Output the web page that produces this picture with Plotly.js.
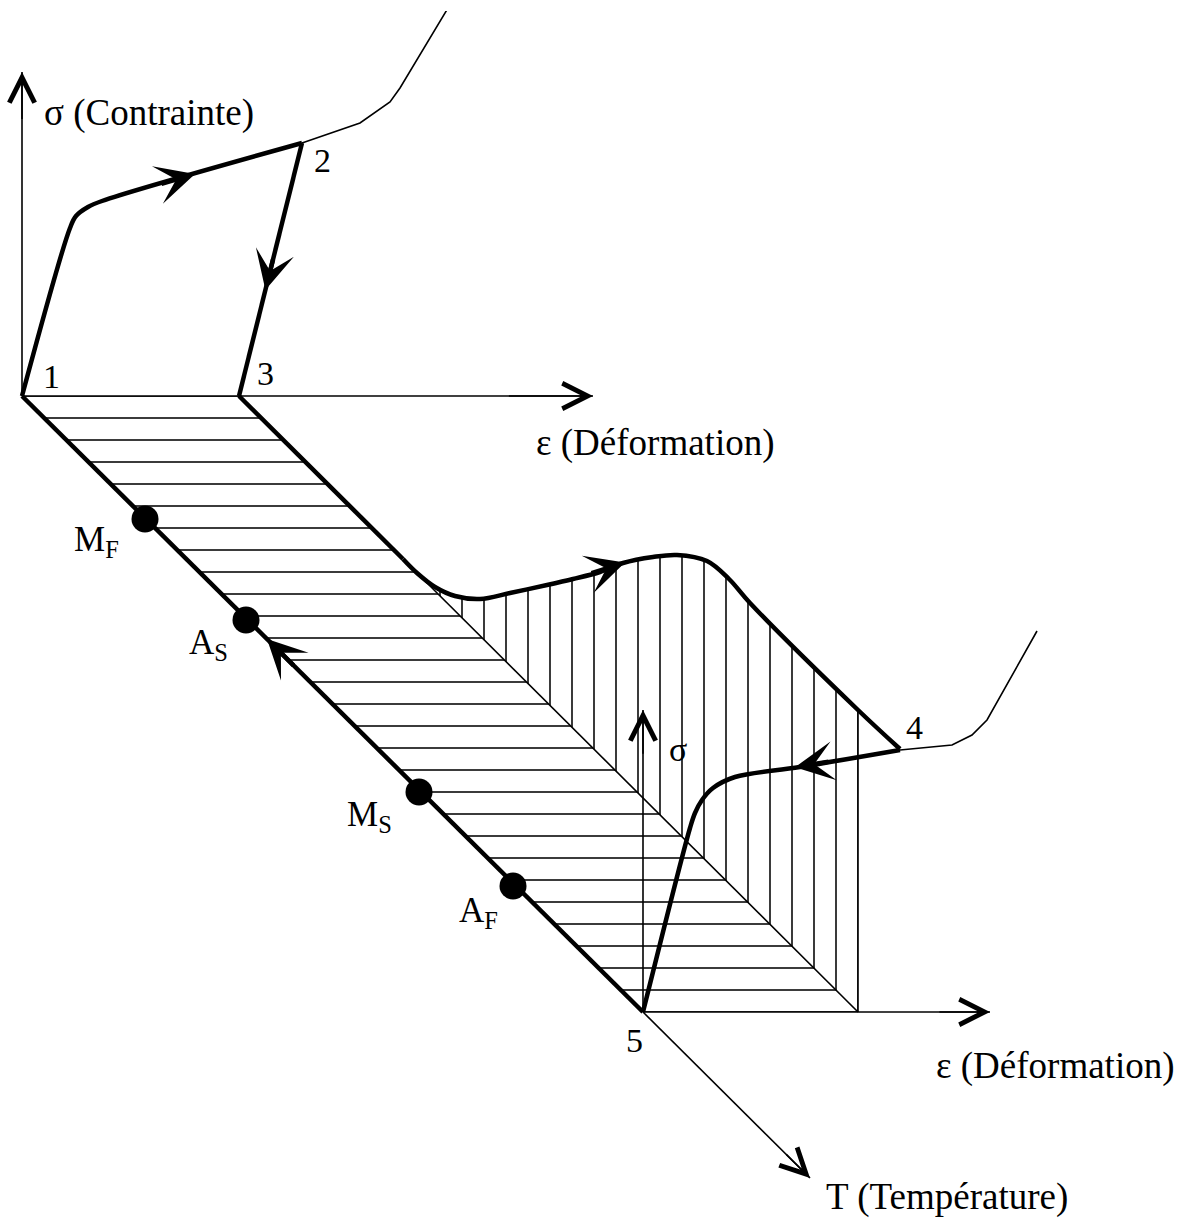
<!DOCTYPE html>
<html>
<head>
<meta charset="utf-8">
<script src="https://cdn.plot.ly/plotly-3.0.1.min.js"></script>
<style>
  html, body { margin: 0; padding: 0; background: #fff; }
  #plot { width: 1194px; height: 1223px; }
</style>
</head>
<body>
<div id="plot"></div>
<script>
// Diagram coordinates (pixel-like units, y downwards)

// hatched floor (strain / temperature plane)
const floorX = [22, 239, 858, 643];
const floorY = [396, 396, 1012, 1012];
const floorDiagX = [417, 858];
const floorDiagY = [573, 1012];

// upper stress curve, from the back edge to point 4
const upperX = [417, 435, 455, 480, 510, 547, 573, 600, 623, 653, 677, 707, 729, 750, 858];
const upperY = [573, 587, 596, 599, 593, 585, 579, 572, 563, 557, 555, 561, 579, 603, 710];
const backEdgeX = [239, 403];
const backEdgeY = [396, 559];
const point4 = [900, 749];

// thick loading paths
const frontX = [22, 643];
const frontY = [396, 1012];
const loadX = [22, 70, 76, 88, 102, 302];
const loadY = [396, 228, 216, 207, 201, 143];
const unloadX = [302, 239];
const unloadY = [143, 396];
const coolX = [900, 800, 735, 713, 702, 695, 690, 643];
const coolY = [750, 767, 777, 788, 800, 813, 828, 1012];

// thin continuations of the stress-strain curves
const tail2X = [302, 360, 390, 400, 448];
const tail2Y = [143, 123, 102, 88, 8];
const tail4X = [900, 952, 972, 987, 1037];
const tail4Y = [750, 745, 735, 720, 631];

// axes: origin -> tip
const axes = [
  {x: [22, 22],   y: [396, 72]},    // sigma
  {x: [22, 593],  y: [396, 396]},   // epsilon
  {x: [643, 643], y: [1012, 710]},  // sigma (hot)
  {x: [643, 990], y: [1012, 1012]}, // epsilon (hot)
  {x: [643, 810], y: [1012, 1178]}  // temperature
];

// direction arrows on the thick paths: tip and a point behind it
const flowTipX = [195, 265.4, 625, 795, 267];
const flowTipY = [174.0, 290, 562.5, 767.2, 639];
const flowBackX = [160, 273.4, 590, 830, 295];
const flowBackY = [184.2, 258, 573.6, 761.5, 666.8];

// transformation temperatures
const transX = [145, 246, 419, 513];
const transY = [519, 620, 792, 886];
const transLabels = ['M<sub>F</sub>', 'A<sub>S</sub>', 'M<sub>S</sub>', 'A<sub>F</sub>'];
const transLabelX = [72, 187, 345, 457];
const transLabelY = [541, 644, 816, 912];

// axis titles
const titleText = ['σ (Contrainte)', 'ε (Déformation)', 'ε (Déformation)', 'T (Température)'];
const titleX = [42, 655, 1055, 947];
const titleY = [113, 443, 1066, 1197];
const titleAnchor = ['left', 'center', 'center', 'center'];

// point labels
const pointText = ['1', '2', '3', '4', '5', 'σ'];
const pointX = [51, 322, 265, 914, 634, 678];
const pointY = [376, 160, 373, 727, 1040, 749];

const black = '#000';
const thick = 4.5;
const thin = 1.6;
const serif = 'Liberation Serif, Times New Roman, serif';

const traces = [];

// horizontal hatching on the floor
traces.push({
  x: floorX, y: floorY, mode: 'lines', fill: 'toself',
  line: {width: 0}, fillcolor: 'rgba(0,0,0,0)',
  fillpattern: {shape: '-', size: 22, solidity: 0.07, fgcolor: black, bgcolor: 'rgba(0,0,0,0)'}
});
// floor diagonal (thin) and vertical hatching up to the stress curve
traces.push({x: floorDiagX, y: floorDiagY, mode: 'lines', line: {color: black, width: thin}});
traces.push({
  x: upperX, y: upperY, mode: 'lines', fill: 'tonexty',
  line: {width: 0, shape: 'spline', smoothing: 1}, fillcolor: 'rgba(0,0,0,0)',
  fillpattern: {shape: '|', size: 22, solidity: 0.07, fgcolor: black, bgcolor: 'rgba(0,0,0,0)'}
});
traces.push({x: [upperX[upperX.length - 1], upperX[upperX.length - 1]], y: [upperY[upperY.length - 1], 1012],
  mode: 'lines', line: {color: black, width: thin}});

// axes
axes.forEach(a => traces.push({x: a.x, y: a.y, mode: 'lines', line: {color: black, width: thin}}));

// thin continuations
traces.push({x: tail2X, y: tail2Y, mode: 'lines', line: {color: black, width: thin}});
traces.push({x: tail4X, y: tail4Y, mode: 'lines', line: {color: black, width: thin}});

// thick paths
traces.push({x: frontX, y: frontY, mode: 'lines', line: {color: black, width: thick}});
traces.push({x: loadX, y: loadY, mode: 'lines', line: {color: black, width: thick, shape: 'spline', smoothing: 1}});
traces.push({x: unloadX, y: unloadY, mode: 'lines', line: {color: black, width: thick}});
traces.push({x: backEdgeX, y: backEdgeY, mode: 'lines', line: {color: black, width: thick}});
traces.push({
  x: [backEdgeX[1]].concat(upperX, [point4[0]]),
  y: [backEdgeY[1]].concat(upperY, [point4[1]]),
  mode: 'lines', line: {color: black, width: thick, shape: 'spline', smoothing: 1}
});
traces.push({x: coolX, y: coolY, mode: 'lines', line: {color: black, width: thick, shape: 'spline', smoothing: 1}});

// transformation points
traces.push({x: transX, y: transY, mode: 'markers', marker: {color: black, size: 27}});

const annotations = [];

// axis arrow heads (open chevrons)
axes.forEach(a => {
  annotations.push({
    x: a.x[1], y: a.y[1], ax: a.x[0] + (a.x[1] - a.x[0]) * 0.85, ay: a.y[0] + (a.y[1] - a.y[0]) * 0.85,
    xref: 'x', yref: 'y', axref: 'x', ayref: 'y', text: '',
    showarrow: true, arrowhead: 5, arrowwidth: thin, arrowsize: 3.1, arrowcolor: black, standoff: 0
  });
});

// flow arrows on the thick paths
flowTipX.forEach((x, i) => {
  annotations.push({
    x: x, y: flowTipY[i], ax: flowBackX[i], ay: flowBackY[i],
    xref: 'x', yref: 'y', axref: 'x', ayref: 'y', text: '',
    showarrow: true, arrowhead: 3, arrowwidth: thick, arrowsize: 1.45, arrowcolor: black, standoff: 0
  });
});

// text labels
titleText.forEach((t, i) => {
  annotations.push({
    x: titleX[i], y: titleY[i], xref: 'x', yref: 'y', text: t, showarrow: false,
    xanchor: titleAnchor[i], font: {family: serif, size: 37, color: black}
  });
});
pointText.forEach((t, i) => {
  annotations.push({
    x: pointX[i], y: pointY[i], xref: 'x', yref: 'y', text: t, showarrow: false,
    font: {family: serif, size: 34, color: black}
  });
});
transLabels.forEach((t, i) => {
  annotations.push({
    x: transLabelX[i], y: transLabelY[i], xref: 'x', yref: 'y', text: t, showarrow: false,
    xanchor: 'left', font: {family: serif, size: 35, color: black}
  });
});

const layout = {
  width: 1194,
  height: 1223,
  margin: {l: 11, t: 11, r: 0, b: 0, pad: 0},
  paper_bgcolor: '#fff',
  plot_bgcolor: '#fff',
  showlegend: false,
  hovermode: false,
  xaxis: {range: [11, 1194], visible: false, fixedrange: true},
  yaxis: {range: [1223, 11], visible: false, fixedrange: true},
  annotations: annotations
};

Plotly.newPlot('plot', traces, layout, {staticPlot: true, displayModeBar: false});
</script>
</body>
</html>
